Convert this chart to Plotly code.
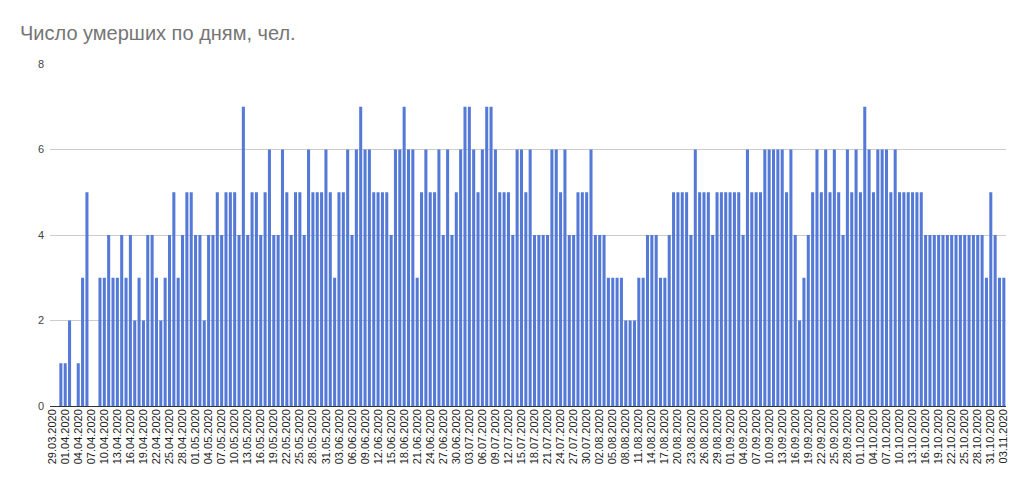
import datetime as dt
import plotly.graph_objects as go

title_text = "Число умерших по дням, чел."
start_date = dt.date(2020, 3, 29)

deaths = [
    0, 0, 1, 1, 2, 0, 1, 3, 5, 0, 0, 3, 3, 4, 3, 3, 4, 3,
    4, 2, 3, 2, 4, 4, 3, 2, 3, 4, 5, 3, 4, 5, 5, 4, 4, 2,
    4, 4, 5, 4, 5, 5, 5, 4, 7, 4, 5, 5, 4, 5, 6, 4, 4, 6, 5,
    4, 5, 5, 4, 6, 5, 5, 5, 6, 5, 3, 5, 5, 6, 4, 6, 7, 6,
    6, 5, 5, 5, 5, 4, 6, 6, 7, 6, 6, 3, 5, 6, 5, 5, 6, 4, 6,
    4, 5, 6, 7, 7, 6, 5, 6, 7, 7, 6, 5, 5, 5, 4, 6, 6, 5,
    6, 4, 4, 4, 4, 6, 6, 5, 6, 4, 4, 5, 5, 5, 6, 4, 4, 4, 3,
    3, 3, 3, 2, 2, 2, 3, 3, 4, 4, 4, 3, 3, 4, 5, 5, 5, 5,
    4, 6, 5, 5, 5, 4, 5, 5, 5, 5, 5, 5, 4, 6, 5, 5, 5, 6,
    6, 6, 6, 6, 5, 6, 4, 2, 3, 4, 5, 6, 5, 6, 5, 6, 5, 4,
    6, 5, 6, 5, 7, 6, 5, 6, 6, 6, 5, 6, 5, 5, 5, 5, 5, 5, 4,
    4, 4, 4, 4, 4, 4, 4, 4, 4, 4, 4, 4, 4, 3, 5, 4, 3, 3,
]

dates = [(start_date + dt.timedelta(days=k)).strftime("%d.%m.%Y") for k in range(len(deaths))]
tick_labels = dates[::3]
y_ticks = [0, 2, 4, 6, 8]

fig = go.Figure(go.Bar(x=dates, y=deaths, marker_color="#5479d6", marker_line_width=0))

fig.update_layout(
    width=1024, height=493,
    margin=dict(l=50, r=18, t=64, b=87),
    paper_bgcolor="white", plot_bgcolor="white",
    bargap=0.3,
    showlegend=False,
    font=dict(family="Liberation Sans, Arial, sans-serif", color="#444444"),
    title=dict(text=title_text, x=20/1024, xref="container", xanchor="left",
               y=1-33/493, yref="container", yanchor="middle",
               font=dict(size=20, color="#757575")),
)
fig.update_xaxes(type="category", tickmode="array", tickvals=tick_labels, ticktext=tick_labels,
                 tickangle=-90, tickfont=dict(size=11, color="#222222"), showgrid=False,
                 ticks="", showline=False)
fig.update_yaxes(range=[0, 8], tickvals=y_ticks, gridcolor="#cccccc", gridwidth=1,
                 zeroline=True, zerolinecolor="#333333", zerolinewidth=1,
                 tickfont=dict(size=11, color="#444444"), ticks="", showline=False,
                 ticklabelstandoff=5)

fig.write_html("out.html")
